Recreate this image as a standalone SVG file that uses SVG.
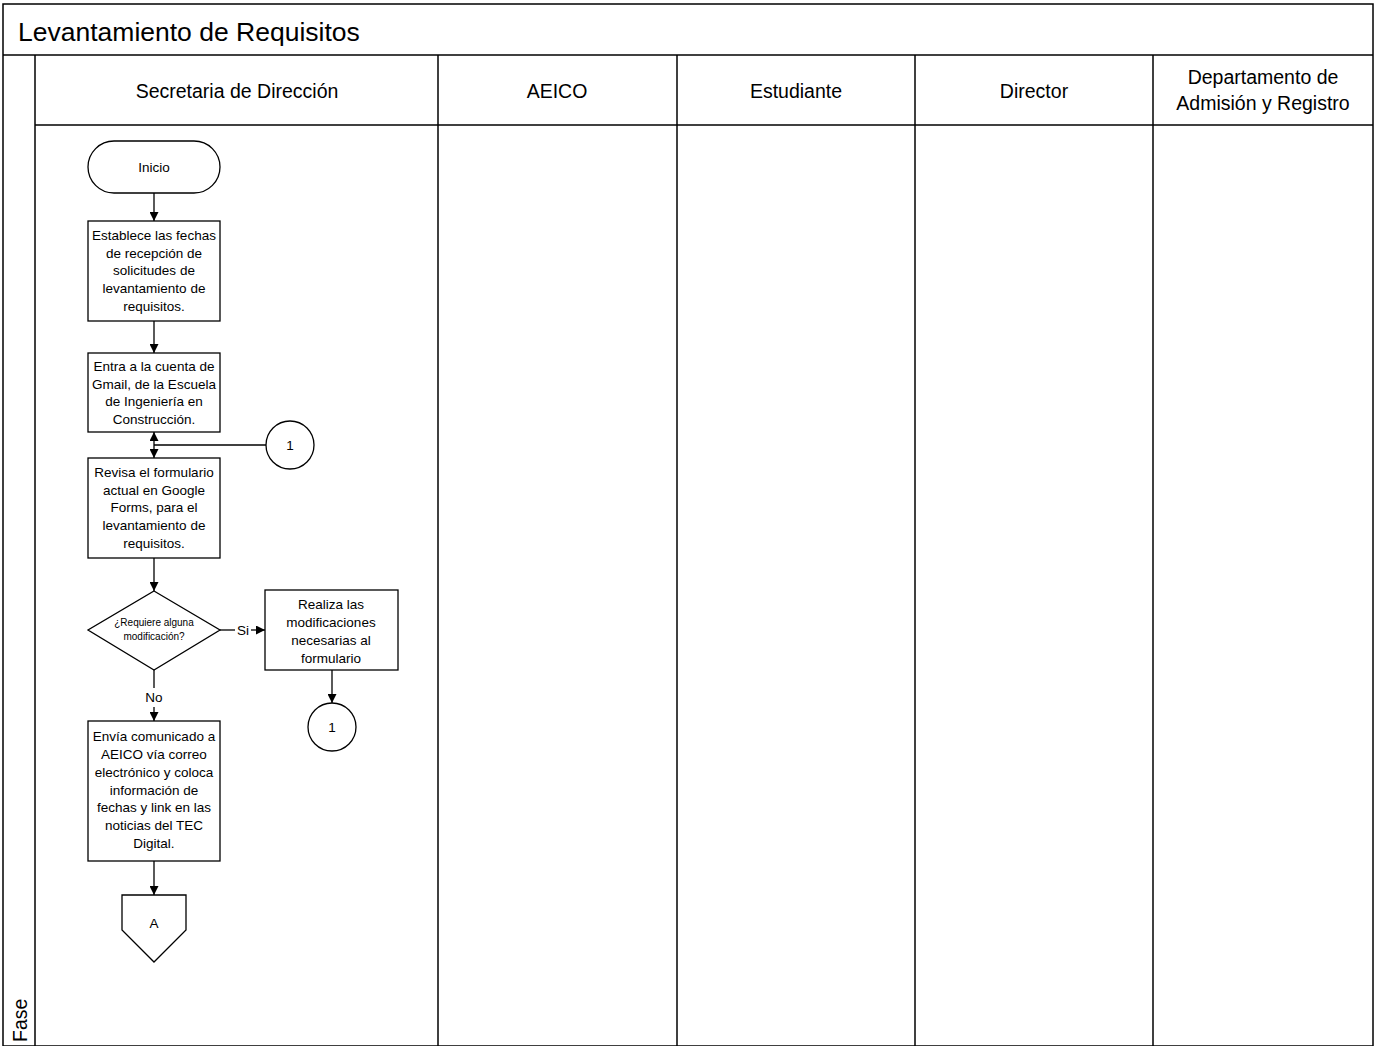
<svg xmlns="http://www.w3.org/2000/svg" width="1374" height="1046" viewBox="0 0 1374 1046">
  <style>
    .frame { fill: none; stroke: #000; stroke-width: 1.5; }
    .shape { fill: #fff; stroke: #000; stroke-width: 1.3; }
    .edge { fill: none; stroke: #000; stroke-width: 1.3; }
    .title { font-family: "Liberation Sans", Arial, sans-serif; font-size: 26.5px; fill: #000; }
    .lane { font-family: "Liberation Sans", Arial, sans-serif; font-size: 19.5px; fill: #000; text-anchor: middle; }
    .t { font-family: "Liberation Sans", Arial, sans-serif; font-size: 13.5px; fill: #000; text-anchor: middle; }
    .small { font-family: "Liberation Sans", Arial, sans-serif; font-size: 10px; fill: #000; text-anchor: middle; }
  </style>
  <defs>
    <marker id="arrow" viewBox="0 0 10 10" refX="10" refY="5" markerWidth="9" markerHeight="9" markerUnits="userSpaceOnUse" orient="auto">
      <path d="M0,0 L10,5 L0,10 Z" fill="#000"/>
    </marker>
  </defs>

  <rect width="1374" height="1046" fill="#fff"/>

  <!-- pool frame, title bar and lanes -->
  <g id="pool">
    <rect class="frame" x="3" y="4" width="1370" height="1042"/>
    <line class="frame" x1="3" y1="55" x2="1373" y2="55"/>
    <line class="frame" x1="35" y1="55" x2="35" y2="1046"/>
    <line class="frame" x1="35" y1="125" x2="1373" y2="125"/>
    <line class="frame" x1="438" y1="55" x2="438" y2="1046"/>
    <line class="frame" x1="677" y1="55" x2="677" y2="1046"/>
    <line class="frame" x1="915" y1="55" x2="915" y2="1046"/>
    <line class="frame" x1="1153" y1="55" x2="1153" y2="1046"/>
    <text class="title" x="18" y="41">Levantamiento de Requisitos</text>
    <text class="lane" x="237" y="98">Secretaria de Dirección</text>
    <text class="lane" x="557" y="98">AEICO</text>
    <text class="lane" x="796" y="98">Estudiante</text>
    <text class="lane" x="1034" y="98">Director</text>
    <text class="lane" x="1263" y="84">Departamento de</text>
    <text class="lane" x="1263" y="110">Admisión y Registro</text>
    <text class="lane" transform="translate(27,1042) rotate(-90)" style="text-anchor:start">Fase</text>
  </g>

  <!-- connectors -->
  <g id="connectors">
    <line class="edge" x1="154" y1="193" x2="154" y2="221" marker-end="url(#arrow)"/>
    <line class="edge" x1="154" y1="321" x2="154" y2="353" marker-end="url(#arrow)"/>
    <line class="edge" x1="266" y1="445" x2="154" y2="445"/>
    <line class="edge" x1="154" y1="445" x2="154" y2="432" marker-end="url(#arrow)"/>
    <line class="edge" x1="154" y1="445" x2="154" y2="458" marker-end="url(#arrow)"/>
    <line class="edge" x1="154" y1="558" x2="154" y2="591" marker-end="url(#arrow)"/>
    <line class="edge" x1="220" y1="630" x2="235" y2="630"/>
    <text class="t" x="243" y="635">Si</text>
    <line class="edge" x1="251" y1="630" x2="265" y2="630" marker-end="url(#arrow)"/>
    <line class="edge" x1="154" y1="670" x2="154" y2="688"/>
    <text class="t" x="154" y="702">No</text>
    <line class="edge" x1="154" y1="707" x2="154" y2="721" marker-end="url(#arrow)"/>
    <line class="edge" x1="332" y1="670" x2="332" y2="703" marker-end="url(#arrow)"/>
    <line class="edge" x1="154" y1="861" x2="154" y2="895" marker-end="url(#arrow)"/>
  </g>

  <!-- nodes -->
  <g id="inicio">
    <rect class="shape" x="88" y="141" width="132" height="52" rx="26" ry="26"/>
    <text class="t" x="154" y="172">Inicio</text>
  </g>

  <g id="establece-fechas">
    <rect class="shape" x="88" y="221" width="132" height="100"/>
    <text class="t" x="154" y="240">Establece las fechas</text>
    <text class="t" x="154" y="258">de recepción de</text>
    <text class="t" x="154" y="275">solicitudes de</text>
    <text class="t" x="154" y="293">levantamiento de</text>
    <text class="t" x="154" y="311">requisitos.</text>
  </g>

  <g id="entra-gmail">
    <rect class="shape" x="88" y="353" width="132" height="79"/>
    <text class="t" x="154" y="371">Entra a la cuenta de</text>
    <text class="t" x="154" y="389">Gmail, de la Escuela</text>
    <text class="t" x="154" y="406">de Ingeniería en</text>
    <text class="t" x="154" y="424">Construcción.</text>
  </g>

  <g id="conector-1-entrada">
    <circle class="shape" cx="290" cy="445" r="24"/>
    <text class="t" x="290" y="450">1</text>
  </g>

  <g id="revisa-formulario">
    <rect class="shape" x="88" y="458" width="132" height="100"/>
    <text class="t" x="154" y="477">Revisa el formulario</text>
    <text class="t" x="154" y="495">actual en Google</text>
    <text class="t" x="154" y="512">Forms, para el</text>
    <text class="t" x="154" y="530">levantamiento de</text>
    <text class="t" x="154" y="548">requisitos.</text>
  </g>

  <g id="requiere-modificacion">
    <polygon class="shape" points="154,591 220,630 154,670 88,630"/>
    <text class="small" x="154" y="626">¿Requiere alguna</text>
    <text class="small" x="154" y="640">modificación?</text>
  </g>

  <g id="realiza-modificaciones">
    <rect class="shape" x="265" y="590" width="133" height="80"/>
    <text class="t" x="331" y="609">Realiza las</text>
    <text class="t" x="331" y="627">modificaciones</text>
    <text class="t" x="331" y="645">necesarias al</text>
    <text class="t" x="331" y="663">formulario</text>
  </g>

  <g id="conector-1-salida">
    <circle class="shape" cx="332" cy="727" r="24"/>
    <text class="t" x="332" y="732">1</text>
  </g>

  <g id="envia-comunicado">
    <rect class="shape" x="88" y="721" width="132" height="140"/>
    <text class="t" x="154" y="741">Envía comunicado a</text>
    <text class="t" x="154" y="759">AEICO vía correo</text>
    <text class="t" x="154" y="777">electrónico y coloca</text>
    <text class="t" x="154" y="795">información de</text>
    <text class="t" x="154" y="812">fechas y link en las</text>
    <text class="t" x="154" y="830">noticias del TEC</text>
    <text class="t" x="154" y="848">Digital.</text>
  </g>

  <g id="conector-pagina-a">
    <polygon class="shape" points="122,895 186,895 186,930 154,962 122,930"/>
    <text class="t" x="154" y="928">A</text>
  </g>
</svg>
